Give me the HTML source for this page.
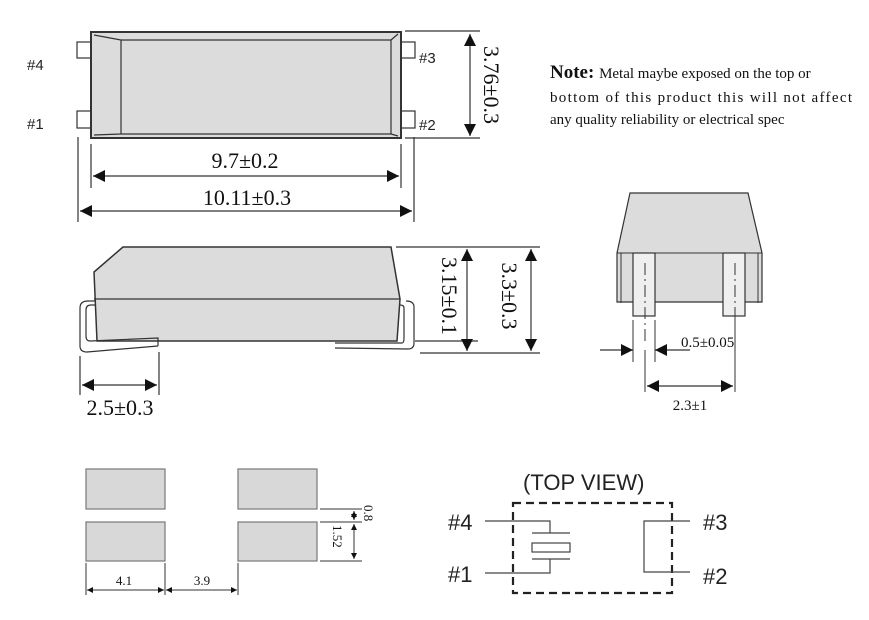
<!DOCTYPE html>
<html><head><meta charset="utf-8"><style>
html,body{margin:0;padding:0;background:#fff;}
svg{display:block;}
.s{font-family:"Liberation Serif",serif;fill:#111;}
.a{font-family:"Liberation Sans",sans-serif;fill:#222;}
</style></head><body>
<svg width="869" height="620" viewBox="0 0 869 620" xmlns="http://www.w3.org/2000/svg">
<defs>
<marker id="ar" viewBox="0 0 10 10" refX="10" refY="5" markerWidth="9" markerHeight="7" orient="auto-start-reverse" markerUnits="userSpaceOnUse"><path d="M0,0L10,5L0,10z" fill="#111"/></marker>
<marker id="ab" viewBox="0 0 10 10" refX="10" refY="5" markerWidth="20" markerHeight="12" orient="auto-start-reverse" markerUnits="userSpaceOnUse"><path d="M0,0L10,5L0,10z" fill="#111"/></marker>
<marker id="as" viewBox="0 0 10 10" refX="10" refY="5" markerWidth="12" markerHeight="6" orient="auto-start-reverse" markerUnits="userSpaceOnUse"><path d="M0,0L10,5L0,10z" fill="#111"/></marker>
</defs>
<g stroke="#333" stroke-width="1.2" fill="none">
<!-- top view -->
<rect x="77" y="42" width="14" height="16"/><rect x="77" y="111" width="14" height="17"/>
<rect x="401" y="42" width="14" height="16"/><rect x="401" y="111" width="14" height="17"/>
<rect x="91" y="32" width="310" height="106" fill="#dcdcdc" stroke-width="2"/>
<path d="M121,40H391V134H121Z M94,35L121,40 M94,135L121,134 M398,34L391,40 M398,136L391,134"/>
<path d="M91,144V188 M401,144V188 M78,137V222 M414,137V222 M405,31H480 M405,138H480"/>
<path d="M93,176H399" marker-start="url(#ab)" marker-end="url(#ab)"/>
<path d="M80,211H412" marker-start="url(#ab)" marker-end="url(#ab)"/>
<path d="M470,34V136" marker-start="url(#ab)" marker-end="url(#ab)"/>
<!-- side view -->
<path d="M123,247H391L400,299L397,341H97L94,272Z" fill="#dcdcdc" stroke-width="1.5"/>
<path d="M94,299H400"/>
<path d="M158,346V338L90,341Q86,341 86,336V310Q86,305 91,305H96 M158,346L87,352Q80,352 80,346V308Q80,301 88,301H96"/>
<path d="M335,343L402,343Q404,343 404,338V308Q404,305 400,305 M335,348L408,349Q414,349 414,343V307Q414,301 406,301"/>
<path d="M396,247H540 M415,341H478 M420,353H540 M80,356V395 M159,352V395"/>
<path d="M467,249V351" marker-start="url(#ab)" marker-end="url(#ab)"/>
<path d="M531,249V351" marker-start="url(#ab)" marker-end="url(#ab)"/>
<path d="M82,385H157" marker-start="url(#ab)" marker-end="url(#ab)"/>
<!-- end view -->
<path d="M630,193H748L762,253V302H617V253Z" fill="#dcdcdc"/>
<path d="M617,253H762 M621,253V303 M758,253V303" stroke-width="1"/>
<rect x="633" y="253" width="22" height="63" fill="#efefef"/>
<rect x="723" y="253" width="22" height="63" fill="#efefef"/>
<path d="M645,263V345 M735,263V318" stroke-dasharray="12,4,2,4" stroke-width="1"/>
<path d="M633,320V362 M655,320V362 M645,350V392 M735,318V392" stroke-width="1"/>
<path d="M600,350H633" marker-end="url(#ab)"/>
<path d="M690,350H655" marker-end="url(#ab)"/>
<path d="M647,386H733" marker-start="url(#ab)" marker-end="url(#ab)"/>
<!-- footprint -->
<g fill="#d8d8d8" stroke="#777"><rect x="86" y="469" width="79" height="40"/><rect x="86" y="522" width="79" height="39"/><rect x="238" y="469" width="79" height="40"/><rect x="238" y="522" width="79" height="39"/></g>
<path d="M86,563V595 M165,563V595 M238,563V595 M320,509H362 M320,522H362 M320,561H362" stroke-width="1"/>
<path d="M87,590H164" stroke-width="1" marker-start="url(#as)" marker-end="url(#as)"/>
<path d="M166,590H237" stroke-width="1" marker-start="url(#as)" marker-end="url(#as)"/>
<path d="M354,511V520" stroke-width="1" marker-start="url(#as)" marker-end="url(#as)"/>
<path d="M354,524V559" stroke-width="1" marker-start="url(#as)" marker-end="url(#as)"/>
<!-- schematic -->
<rect x="513" y="503" width="159" height="90" stroke="#222" stroke-width="2.2" stroke-dasharray="8,5"/>
<g stroke="#444" stroke-width="1.2">
<path d="M485,521H550V533 M532,533H570 M532,559H570 M550,559V573H485"/>
<rect x="532" y="543" width="38" height="9"/>
<path d="M690,521H644V572H690"/>
</g>
</g>
<!-- text -->
<g class="a" font-size="15"><text x="27" y="70">#4</text><text x="27" y="129">#1</text><text x="419" y="63">#3</text><text x="419" y="130">#2</text></g>
<g class="s" font-size="22"><text x="245" y="168" text-anchor="middle">9.7±0.2</text><text x="247" y="205" text-anchor="middle">10.11±0.3</text>
<text x="120" y="415" text-anchor="middle">2.5±0.3</text>
<text transform="translate(484,85) rotate(90)" text-anchor="middle">3.76±0.3</text>
<text transform="translate(442,296) rotate(90)" text-anchor="middle">3.15±0.1</text>
<text transform="translate(502,296) rotate(90)" text-anchor="middle">3.3±0.3</text></g>
<g class="s" font-size="15"><text x="681" y="347">0.5±0.05</text><text x="690" y="410" text-anchor="middle">2.3±1</text></g>
<g class="s" font-size="13"><text x="124" y="585" text-anchor="middle">4.1</text><text x="202" y="585" text-anchor="middle">3.9</text>
<text transform="translate(364,505) rotate(90)">0.8</text><text transform="translate(333,525) rotate(90)">1.52</text></g>
<g class="s" font-size="15"><text x="550" y="78"><tspan font-weight="bold" font-size="19">Note: </tspan>Metal maybe exposed on the top or</text>
<text x="550" y="102" textLength="302" lengthAdjust="spacing">bottom of this product this will not affect</text>
<text x="550" y="124">any quality reliability or electrical spec</text></g>
<g class="a" font-size="22"><text x="523" y="490">(TOP VIEW)</text><text x="448" y="530">#4</text><text x="448" y="582">#1</text><text x="703" y="530">#3</text><text x="703" y="584">#2</text></g>
</svg>
</body></html>
